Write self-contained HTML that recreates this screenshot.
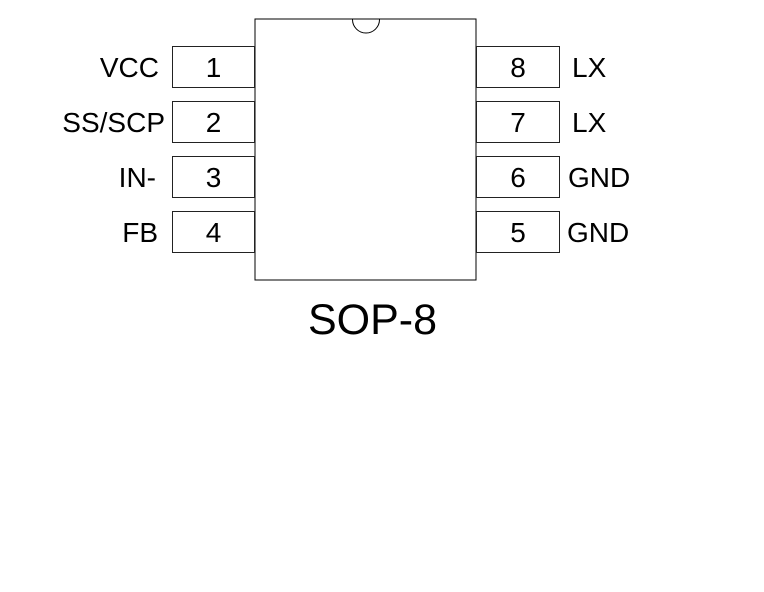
<!DOCTYPE html>
<html>
<head>
<meta charset="utf-8">
<style>
  html,body{margin:0;padding:0;background:#fff;}
  body{width:764px;height:592px;overflow:hidden;}
  svg{display:block;}
  text{font-family:"Liberation Sans",Arial,sans-serif;fill:#000;}
</style>
</head>
<body>
<svg width="764" height="592" viewBox="0 0 764 592" xmlns="http://www.w3.org/2000/svg">
  <rect x="0" y="0" width="764" height="592" fill="#fff"/>
  <!-- body -->
  <rect x="255" y="19" width="221" height="261" fill="none" stroke="#000" stroke-width="1"/>
  <!-- notch -->
  <path d="M352.5 19.5 A13.5 13.5 0 0 0 379.5 19.5" fill="none" stroke="#000" stroke-width="1"/>

  <!-- pins -->
  <g fill="none" stroke="#222" stroke-width="1">
    <rect x="172.5" y="46.5" width="82" height="41"/>
    <rect x="172.5" y="101.5" width="82" height="41"/>
    <rect x="172.5" y="156.5" width="82" height="41"/>
    <rect x="172.5" y="211.5" width="82" height="41"/>
    <rect x="476.5" y="46.5" width="83" height="41"/>
    <rect x="476.5" y="101.5" width="83" height="41"/>
    <rect x="476.5" y="156.5" width="83" height="41"/>
    <rect x="476.5" y="211.5" width="83" height="41"/>
  </g>

  <g font-size="28">
    <!-- pin numbers -->
    <text x="213.5" y="77" text-anchor="middle">1</text>
    <text x="213.5" y="132" text-anchor="middle">2</text>
    <text x="213.5" y="187" text-anchor="middle">3</text>
    <text x="213.5" y="242" text-anchor="middle">4</text>
    <text x="518" y="77" text-anchor="middle">8</text>
    <text x="518" y="132" text-anchor="middle">7</text>
    <text x="518" y="187" text-anchor="middle">6</text>
    <text x="518" y="242" text-anchor="middle">5</text>

    <!-- left labels -->
    <text x="159" y="77" text-anchor="end">VCC</text>
    <text x="165" y="132" text-anchor="end">SS/SCP</text>
    <text x="156" y="187" text-anchor="end">IN-</text>
    <text x="158" y="242" text-anchor="end">FB</text>

    <!-- right labels -->
    <text x="572" y="77">LX</text>
    <text x="572" y="132">LX</text>
    <text x="568" y="187">GND</text>
    <text x="567" y="242">GND</text>
  </g>

  <text x="308" y="334" font-size="43">SOP-8</text>
</svg>
</body>
</html>
